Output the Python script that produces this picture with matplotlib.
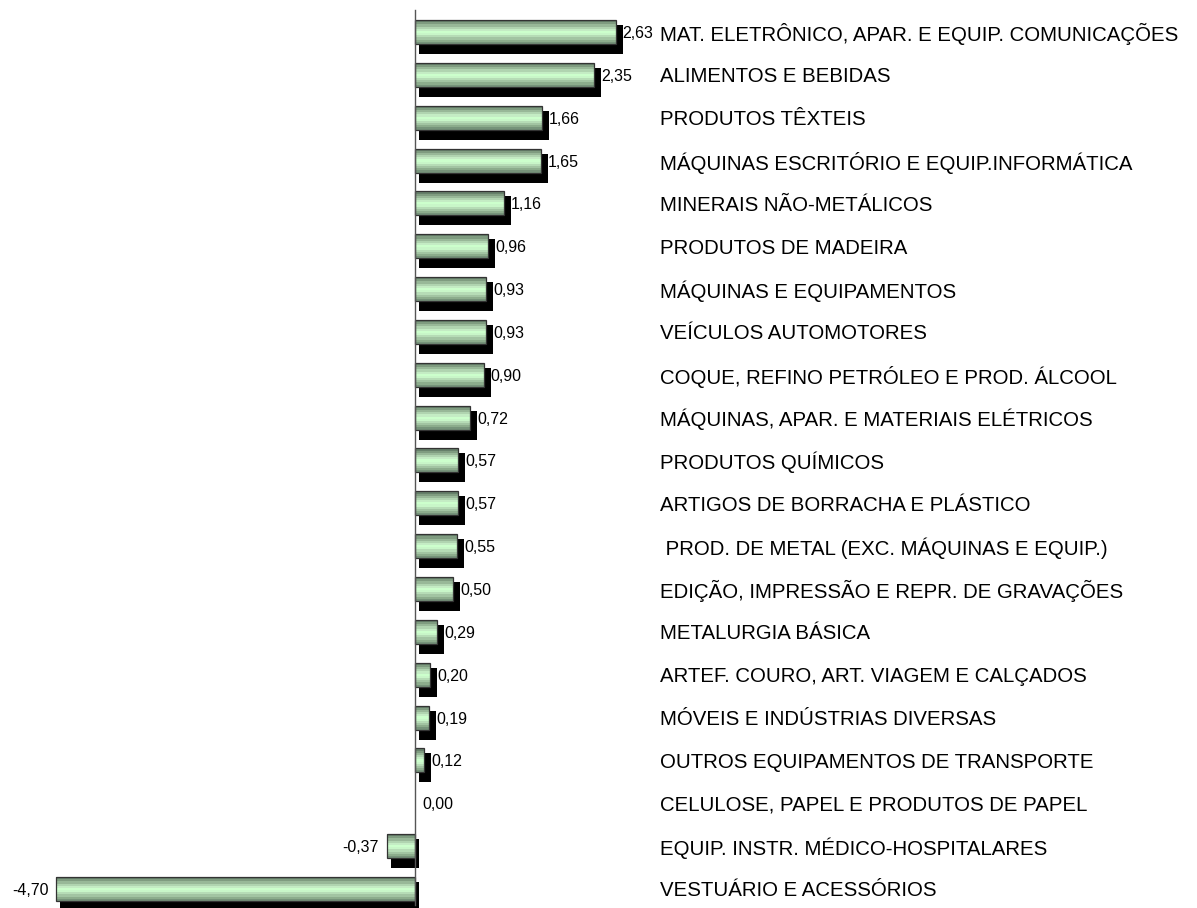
import numpy as np
import matplotlib
matplotlib.use("Agg")
import matplotlib.pyplot as plt

# %% data
sectors = [
    "MAT. ELETRÔNICO, APAR. E EQUIP. COMUNICAÇÕES",
    "ALIMENTOS E BEBIDAS",
    "PRODUTOS TÊXTEIS",
    "MÁQUINAS ESCRITÓRIO E EQUIP.INFORMÁTICA",
    "MINERAIS NÃO-METÁLICOS",
    "PRODUTOS DE MADEIRA",
    "MÁQUINAS E EQUIPAMENTOS",
    "VEÍCULOS AUTOMOTORES",
    "COQUE, REFINO PETRÓLEO E PROD. ÁLCOOL",
    "MÁQUINAS, APAR. E MATERIAIS ELÉTRICOS",
    "PRODUTOS QUÍMICOS",
    "ARTIGOS DE BORRACHA E PLÁSTICO",
    " PROD. DE METAL (EXC. MÁQUINAS E EQUIP.)",
    "EDIÇÃO, IMPRESSÃO E REPR. DE GRAVAÇÕES",
    "METALURGIA BÁSICA",
    "ARTEF. COURO, ART. VIAGEM E CALÇADOS",
    "MÓVEIS E INDÚSTRIAS DIVERSAS",
    "OUTROS EQUIPAMENTOS DE TRANSPORTE",
    "CELULOSE, PAPEL E PRODUTOS DE PAPEL",
    "EQUIP. INSTR. MÉDICO-HOSPITALARES",
    "VESTUÁRIO E ACESSÓRIOS",
]
values = [2.63, 2.35, 1.66, 1.65, 1.16, 0.96, 0.93, 0.93, 0.90, 0.72, 0.57,
          0.57, 0.55, 0.50, 0.29, 0.20, 0.19, 0.12, 0.00, -0.37, -4.70]

# %% style
plt.rcParams['font.family'] = ['Liberation Sans', 'DejaVu Sans']
W, H = 1197, 908
px_unit = 76.3      # px per data unit
row_px = 42.85      # px per row
x0_px = 415         # zero line
y0_px = 32          # centre of first row
label_px = 660      # left edge of sector names

band_colors = ['#66806a', '#7f9c80', '#98b898', '#b0d4b0', '#c4ecc4', '#ccffcc',
               '#c8f6c8', '#b6dcb6', '#a2c4a2', '#8cac8c', '#76937a']
bar_h = 24 / row_px

fig = plt.figure(figsize=(W / 100, H / 100), dpi=100)
ax = fig.add_axes([0, 0, 1, 1])
ax.set_xlim(-x0_px / px_unit, (W - x0_px) / px_unit)
ax.set_ylim((H - y0_px) / row_px, -y0_px / row_px)
ax.axis('off')

pos = np.arange(len(values))
vals = np.array(values)
dx = 1 / px_unit

# shadow
nz = vals != 0
sh_left = np.where(vals > 0, 4 * dx, vals + 4 * dx)
sh_right = np.where(vals > 0, vals + 7 * dx, 4 * dx)
ax.barh(pos[nz] + 7.5 / row_px, (sh_right - sh_left)[nz], left=sh_left[nz],
        height=29 / row_px, color='black', zorder=1)

# cylinder-like bands
nb = len(band_colors)
bh = bar_h / nb
for k, c in enumerate(band_colors):
    ax.barh(pos[nz] - bar_h / 2 + (k + 0.5) * bh, vals[nz], height=bh * 1.02,
            color=c, linewidth=0, zorder=2)
ax.barh(pos[nz], vals[nz], height=bar_h, fill=False, edgecolor='#333333',
        linewidth=0.9, zorder=3)

# zero line
ax.plot([0, 0], [-22 / row_px, (905 - y0_px) / row_px], color='#555555',
        lw=1, zorder=4)

# value labels
for p, v in zip(pos, vals):
    s = f"{v:.2f}".replace('.', ',')
    if v >= 0:
        ax.text(v + 7 * dx, p, s, ha='left', va='center_baseline',
                fontsize=11.5, zorder=5)
    else:
        ax.text(v - 8 * dx, p, s, ha='right', va='center_baseline',
                fontsize=11.5, zorder=5)

# sector labels
for p, name in zip(pos, sectors):
    ax.text((label_px - x0_px) * dx, p, name, ha='left', va='center_baseline',
            fontsize=14.7)

fig.savefig("out.png", dpi=100)
